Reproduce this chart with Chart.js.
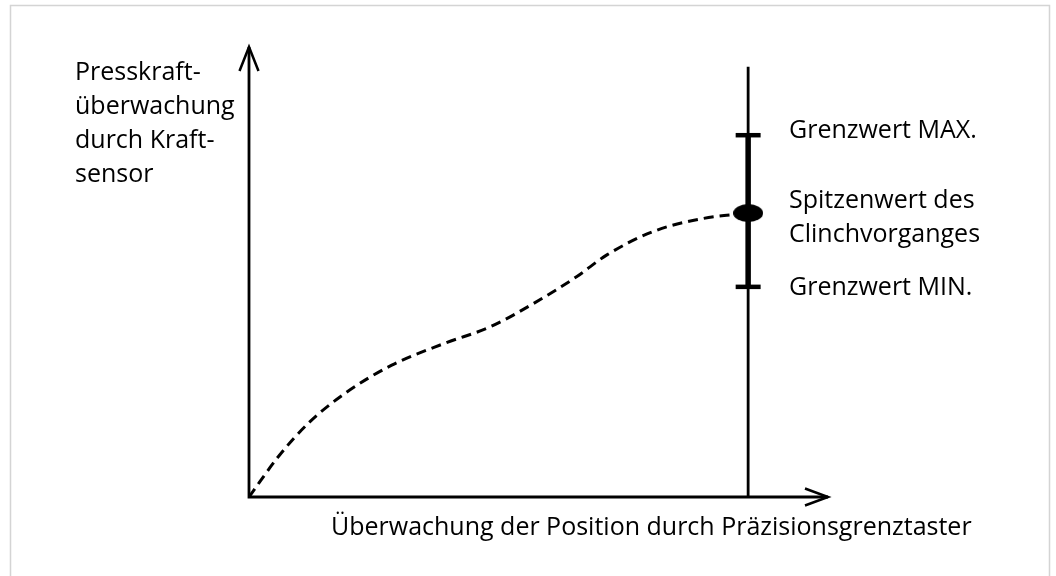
<!DOCTYPE html>
<html>
<head>
<meta charset="utf-8">
<script src="https://cdn.jsdelivr.net/npm/chart.js@4"></script>
<style>
  html, body { margin: 0; padding: 0; background: #ffffff; }
  #wrap { position: relative; width: 1056px; height: 576px; }
</style>
</head>
<body>
<div id="wrap"><canvas id="c"></canvas></div>
<script>
// ---- data (abstract units) ----
const curveX = [0, 5.9, 11.9, 19.2, 28.6, 39.3, 48.3, 57.0, 65.7, 71.7, 81.0, 91.0, 100];
const curveY = [0, 9.0, 16.4, 23.0, 29.3, 34.2, 37.8, 43.0, 49.0, 53.8, 59.0, 61.9, 63.1];
const peakPosition = 100;
const peakValue = 63.1;
const limitMax = 80.4;
const limitMin = 46.7;
const lineTop = 95.6;
const xRange = [0, 116];
const yRange = [0, 100];

const yAxisLabel = ["Presskraft-", "überwachung", "durch Kraft-", "sensor"];
const xAxisLabel = "Überwachung der Position durch Präzisionsgrenztaster";
const maxLabel = ["Grenzwert MAX."];
const peakLabel = ["Spitzenwert des", "Clinchvorganges"];
const minLabel = ["Grenzwert MIN."];

// ---- build datasets ----
const curve = curveX.map((x, i) => ({ x: x, y: curveY[i] }));
const tickHalf = 2.5;

function ellipseStyle(w, h) {
  const cv = document.createElement('canvas');
  cv.width = w; cv.height = h;
  const g = cv.getContext('2d');
  g.fillStyle = '#000';
  g.beginPath();
  g.ellipse(w / 2, h / 2, w / 2, h / 2, 0, 0, Math.PI * 2);
  g.fill();
  return cv;
}

const FONT = '25px "Open Sans", "Noto Sans", sans-serif';

const decor = {
  id: 'decor',
  beforeDraw(chart) {
    const ctx = chart.ctx;
    const xs = chart.scales.x, ys = chart.scales.y;
    const x0 = xs.getPixelForValue(xRange[0]);
    const y0 = ys.getPixelForValue(yRange[0]);
    const xEnd = xs.getPixelForValue(xRange[1]);
    const yEnd = ys.getPixelForValue(yRange[1]);
    ctx.save();
    // frame
    ctx.strokeStyle = '#d4d4d4';
    ctx.lineWidth = 1.5;
    ctx.beginPath();
    ctx.moveTo(10.5, 600);
    ctx.lineTo(10.5, 5.5);
    ctx.lineTo(1049.5, 5.5);
    ctx.lineTo(1049.5, 600);
    ctx.stroke();
    // axes
    ctx.strokeStyle = '#000';
    ctx.lineWidth = 2.8;
    ctx.lineCap = 'butt';
    ctx.beginPath();
    ctx.moveTo(x0, y0);
    ctx.lineTo(x0, yEnd);
    ctx.moveTo(x0 - 1.4, y0);
    ctx.lineTo(xEnd, y0);
    ctx.stroke();
    // arrowheads
    ctx.lineWidth = 2.5;
    ctx.lineJoin = 'miter';
    ctx.beginPath();
    ctx.moveTo(x0 - 9.5, yEnd + 24);
    ctx.lineTo(x0, yEnd);
    ctx.lineTo(x0 + 9.5, yEnd + 24);
    ctx.moveTo(xEnd - 23, y0 - 8.5);
    ctx.lineTo(xEnd, y0);
    ctx.lineTo(xEnd - 23, y0 + 8.5);
    ctx.stroke();
    ctx.restore();
  },
  afterDraw(chart) {
    const ctx = chart.ctx;
    const ys = chart.scales.y;
    ctx.save();
    ctx.fillStyle = '#000';
    ctx.font = FONT;
    ctx.textBaseline = 'alphabetic';
    ctx.textAlign = 'left';
    const lh = 34;
    yAxisLabel.forEach((t, i) => ctx.fillText(t, 75, 80 + i * lh));
    ctx.fillText(xAxisLabel, 331, 535);
    const lx = 789;
    const pMax = ys.getPixelForValue(limitMax);
    const pMin = ys.getPixelForValue(limitMin);
    const pPeak = ys.getPixelForValue(peakValue);
    maxLabel.forEach((t, i) => ctx.fillText(t, lx, pMax + 3 + i * lh));
    peakLabel.forEach((t, i) => ctx.fillText(t, lx, pPeak - 5 + i * lh));
    minLabel.forEach((t, i) => ctx.fillText(t, lx, pMin + 8 + i * lh));
    ctx.restore();
  }
};

new Chart(document.getElementById('c'), {
  type: 'scatter',
  data: {
    datasets: [
      {
        label: 'curve',
        data: curve,
        showLine: true,
        borderColor: '#000',
        borderWidth: 3,
        borderDash: [10, 6],
        cubicInterpolationMode: 'monotone',
        pointRadius: 0,
        order: 5
      },
      {
        label: 'position line',
        data: [{ x: peakPosition, y: yRange[0] }, { x: peakPosition, y: lineTop }],
        showLine: true,
        borderColor: '#000',
        borderWidth: 2.8,
        pointRadius: 0,
        order: 4
      },
      {
        label: 'tolerance band',
        data: [{ x: peakPosition, y: limitMin }, { x: peakPosition, y: limitMax }],
        showLine: true,
        borderColor: '#000',
        borderWidth: 5.5,
        pointRadius: 0,
        order: 3
      },
      {
        label: 'max',
        data: [{ x: peakPosition - tickHalf, y: limitMax }, { x: peakPosition + tickHalf, y: limitMax }],
        showLine: true,
        borderColor: '#000',
        borderWidth: 4.5,
        pointRadius: 0,
        order: 2
      },
      {
        label: 'min',
        data: [{ x: peakPosition - tickHalf, y: limitMin }, { x: peakPosition + tickHalf, y: limitMin }],
        showLine: true,
        borderColor: '#000',
        borderWidth: 4.5,
        pointRadius: 0,
        order: 2
      },
      {
        label: 'peak',
        data: [{ x: peakPosition, y: peakValue }],
        pointStyle: ellipseStyle(30, 18),
        pointRadius: 15,
        order: 1
      }
    ]
  },
  options: {
    responsive: true,
    maintainAspectRatio: false,
    animation: false,
    layout: { padding: { left: 249, right: 228, top: 47, bottom: 79 } },
    scales: {
      x: { type: 'linear', min: xRange[0], max: xRange[1], display: false },
      y: { type: 'linear', min: yRange[0], max: yRange[1], display: false }
    },
    plugins: {
      legend: { display: false },
      tooltip: { enabled: false }
    }
  },
  plugins: [decor]
});
</script>
</body>
</html>
